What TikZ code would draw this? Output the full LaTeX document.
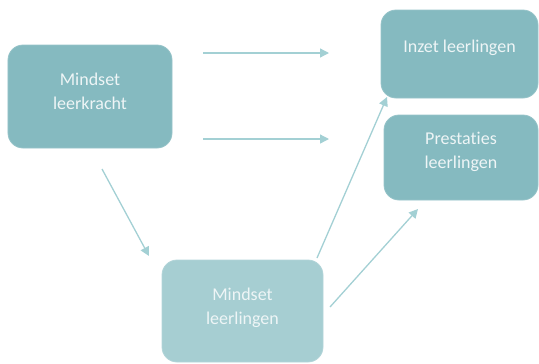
\documentclass[tikz,border=0pt]{standalone}
\usepackage{fontspec}
\setmainfont{Carlito}[Ligatures={NoCommon}]
\usetikzlibrary{arrows.meta}
\definecolor{boxA}{HTML}{85BAC0}
\definecolor{boxB}{HTML}{A6CED2}
\definecolor{arr}{HTML}{A3D0D4}
\definecolor{txt}{HTML}{EEF5F6}
\tikzset{
  box/.style={fill=boxA, draw=boxA!85!white, line width=0.8bp, rounded corners=15bp, inner sep=0pt},
  lbl/.style={text=txt, font=\fontsize{18bp}{24bp}\selectfont, align=center},
  conn/.style={draw=arr, line width=1.3bp, -{Triangle[length=9bp,width=9bp]}}
}
\begin{document}
\begin{tikzpicture}[x=1bp,y=-1bp]
\useasboundingbox (0,0) rectangle (539,363);
\node[box, minimum width=164bp, minimum height=103bp] (ml) at (90,96.5) {};
\node[lbl] (mlt) at (90,91) {Mindset\\leerkracht};
\node[box, minimum width=157bp, minimum height=88bp] (il) at (459.5,54) {};
\node[lbl] (ilt) at (459.5,48) {Inzet leerlingen};
\node[box, minimum width=154bp, minimum height=85bp] (pl) at (461,157.5) {};
\node[lbl] (plt) at (461,152) {Prestaties\\leerlingen};
\node[box, fill=boxB, draw=boxB!85!white, minimum width=161bp, minimum height=102bp] (mll) at (242.5,311) {};
\node[lbl] (mllt) at (242.5,308) {Mindset\\leerlingen};
\coordinate (a1s) at (203,53);
\coordinate (a1e) at (329,53);
\coordinate (a2s) at (203,139);
\coordinate (a2e) at (329,139);
\draw[conn] (a1s) -- (a1e);
\draw[conn] (a2s) -- (a2e);
\coordinate (d1s) at (102,169);
\coordinate (d1e) at (149,256);
\draw[conn] (d1s) -- (d1e);
\coordinate (d2s) at (317,258);
\coordinate (d2e) at (387,97);
\draw[conn] (d2s) -- (d2e);
\coordinate (d3s) at (330,307);
\coordinate (d3e) at (418,209);
\draw[conn] (d3s) -- (d3e);
\end{tikzpicture}
\end{document}
